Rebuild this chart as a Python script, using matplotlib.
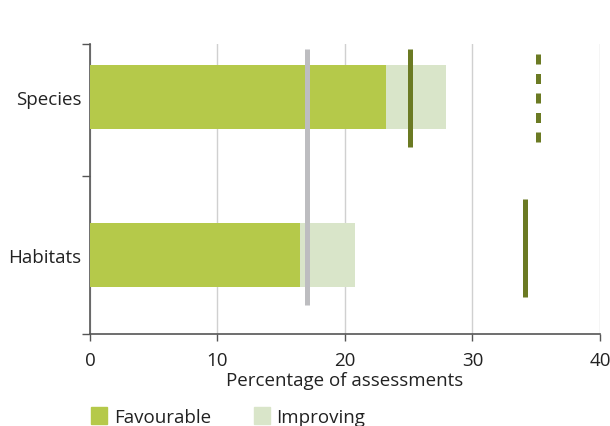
import matplotlib.pyplot as plt
from matplotlib.patches import Patch

plt.rcParams['font.family'] = ['Open Sans', 'DejaVu Sans']

categories = ['Habitats', 'Species']
favourable = [16.5, 23.2]
improving_total = [20.8, 27.9]
overall_line = 17.0
target_solid = [34.1, 25.1]
species_dotted = 35.1

fav_color = '#b5c94a'
imp_color = '#d9e5c9'
dark_green = '#6b7a23'
grey = '#bdbdc0'
fs = 13.5

fig = plt.figure(figsize=(6.1, 4.27), dpi=100)
ax = fig.add_axes([0.1475, 0.2155, 0.8361, 0.6791])

y = [0, 1]
ax.barh(y, improving_total, height=0.4, color=imp_color, zorder=2)
ax.barh(y, favourable, height=0.4, color=fav_color, zorder=3)

lw = 3.6
ax.plot([overall_line, overall_line], [-0.316, 1.304], color=grey, lw=lw,
        solid_capstyle='butt', zorder=4)
ax.plot([target_solid[1]] * 2, [0.684, 1.304], color=dark_green, lw=lw,
        solid_capstyle='butt', zorder=5)
ax.plot([target_solid[0]] * 2, [-0.264, 0.354], color=dark_green, lw=lw,
        solid_capstyle='butt', zorder=5)
ax.plot([species_dotted] * 2, [0.713, 1.28], color=dark_green, lw=lw,
        linestyle=(0, (2.0, 1.9)), dash_capstyle='butt', zorder=5)

ax.set_xlim(0, 40)
ax.set_ylim(-0.5, 1.335)
ax.set_xticks([0, 10, 20, 30, 40])
ax.xaxis.grid(True, color='#d0d0d0', lw=1)
ax.set_axisbelow(True)

ax.set_yticks([-0.5, 0.5, 1.335])
ax.set_yticklabels([])
ax.set_yticks(y, minor=True)
ax.set_yticklabels(categories, minor=True, fontsize=fs, color='#222222')
ax.tick_params(axis='y', which='minor', length=0, pad=6)
ax.tick_params(axis='y', which='major', length=6, width=1, color='#555555')
ax.tick_params(axis='x', length=5, width=1, color='#555555', labelsize=fs,
               labelcolor='#222222', pad=7)

for s in ['top', 'right']:
    ax.spines[s].set_visible(False)
for s in ['left', 'bottom']:
    ax.spines[s].set_color('#555555')
    ax.spines[s].set_linewidth(1.2)

ax.set_xlabel('Percentage of assessments', fontsize=fs, color='#222222', labelpad=2)

handles = [Patch(color=fav_color, label='Favourable'),
           Patch(color=imp_color, label='Improving')]
fig.legend(handles=handles, loc='lower left', bbox_to_anchor=(0.122, -0.04),
           ncol=2, frameon=False, fontsize=fs, handlelength=0.85, handleheight=1.0,
           handletextpad=0.35, columnspacing=2.3, labelcolor='#222222')

fig.savefig('out.png', dpi=100)
